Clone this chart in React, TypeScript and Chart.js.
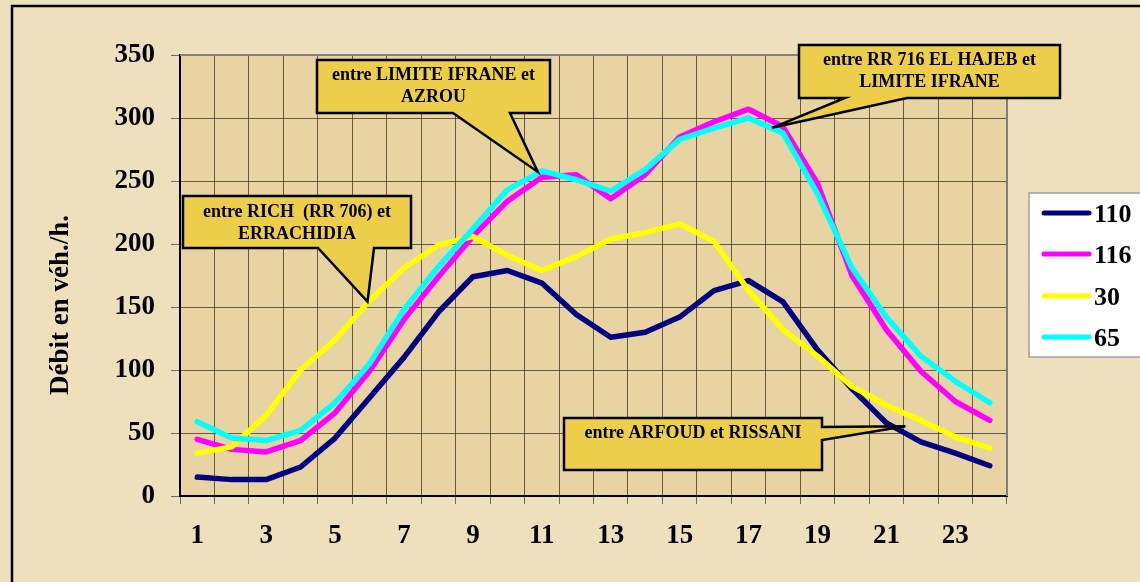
import React, { useEffect, useRef } from "react";
import { Chart, registerables } from "chart.js";

Chart.register(...registerables);

// ---------- DATA ----------
const hours = ["1","2","3","4","5","6","7","8","9","10","11","12","13","14","15","16","17","18","19","20","21","22","23","24"];
const series110 = [15, 13, 13, 23, 46, 78, 110, 146, 174, 179, 169, 144, 126, 130, 142, 163, 171, 154, 116, 85, 58, 43, 34, 24];
const series116 = [45, 37, 35, 44, 66, 99, 140, 174, 206, 234, 253, 255, 236, 255, 285, 297, 307, 293, 248, 175, 132, 99, 75, 60];
const series30 = [34, 39, 64, 100, 124, 155, 181, 199, 206, 191, 179, 190, 204, 209, 216, 202, 163, 132, 111, 87, 72, 60, 47, 38];
const series65 = [59, 46, 44, 52, 74, 105, 148, 182, 212, 243, 258, 251, 242, 259, 283, 292, 300, 288, 240, 181, 142, 111, 91, 74];
const seriesNames = ["110", "116", "30", "65"];
const seriesColors = ["#000080", "#FF00FF", "#FFFF00", "#00FFFF"];
const yMin = 0;
const yMax = 350;
const yStep = 50;
const yTitle = "Débit en véh./h.";

const callout1Lines = ["entre LIMITE IFRANE et", "AZROU"];
const callout2Lines = ["entre RICH  (RR 706) et", "ERRACHIDIA"];
const callout3Lines = ["entre RR 716 EL HAJEB et", "LIMITE IFRANE"];
const callout4Lines = ["entre ARFOUD et RISSANI"];

// ---------- LAYOUT / STYLE ----------
const W = 1140;
const H = 582;
const SERIF = "'Liberation Serif', 'Times New Roman', serif";
const OUTER_BG = "#EEDFBD";
const PLOT_BG = "#E8D3A2";
const CALLOUT_FILL = "#EDCE4A";

type Callout = {
  lines: string[];
  box: [number, number, number, number]; // x0,y0,x1,y1
  side: "bottom" | "right";
  base: [number, number];
  ds: number;
  idx: number;
  frac: number;
  dx: number;
  dy: number;
  baselines: number[];
};

const callouts: Callout[] = [
  { lines: callout1Lines, box: [317, 60, 550, 113], side: "bottom", base: [453, 510], ds: 3, idx: 10, frac: 0, dx: -4, dy: 1, baselines: [80, 102] },
  { lines: callout2Lines, box: [183, 196, 411, 248], side: "bottom", base: [318, 374], ds: 2, idx: 5, frac: 0, dx: -2, dy: 1, baselines: [217, 239] },
  { lines: callout3Lines, box: [799, 45, 1060, 98], side: "bottom", base: [845, 907], ds: 1, idx: 17, frac: 0, dx: -11, dy: 1, baselines: [65, 87] },
  { lines: callout4Lines, box: [564, 418, 822, 470], side: "right", base: [427, 440], ds: 0, idx: 20, frac: 0.55, dx: 0, dy: -7, baselines: [438] },
];

const decorPlugin = {
  id: "decor",
  beforeDraw(chart: any) {
    const { ctx, chartArea } = chart;
    ctx.save();
    ctx.fillStyle = OUTER_BG;
    ctx.fillRect(0, 0, W, H);
    ctx.fillStyle = PLOT_BG;
    ctx.fillRect(chartArea.left, chartArea.top, chartArea.right - chartArea.left, chartArea.bottom - chartArea.top);
    // outer frame
    ctx.strokeStyle = "#000";
    ctx.lineWidth = 2.5;
    ctx.beginPath();
    ctx.moveTo(12, H + 5);
    ctx.lineTo(12, 6);
    ctx.lineTo(W + 5, 6);
    ctx.stroke();
    ctx.restore();
  },
  afterDraw(chart: any) {
    const { ctx, chartArea } = chart;
    ctx.save();
    // top / right plot border (gray)
    ctx.strokeStyle = "#808080";
    ctx.lineWidth = 2;
    ctx.beginPath();
    ctx.moveTo(chartArea.left, chartArea.top);
    ctx.lineTo(chartArea.right, chartArea.top);
    ctx.lineTo(chartArea.right, chartArea.bottom);
    ctx.stroke();

    // y title
    ctx.save();
    ctx.translate(61, 305);
    ctx.rotate(-Math.PI / 2);
    ctx.fillStyle = "#000";
    ctx.font = `bold 27px ${SERIF}`;
    ctx.textAlign = "center";
    ctx.textBaseline = "middle";
    ctx.fillText(yTitle, 0, 0);
    ctx.restore();

    // callouts
    callouts.forEach((c) => {
      const pts = chart.getDatasetMeta(c.ds).data;
      const p0 = pts[c.idx];
      const p1 = pts[Math.min(c.idx + 1, pts.length - 1)];
      const tx = p0.x + (p1.x - p0.x) * c.frac + c.dx;
      const ty = p0.y + (p1.y - p0.y) * c.frac + c.dy;
      const [x0, y0, x1, y1] = c.box;
      ctx.beginPath();
      ctx.moveTo(x0, y0);
      ctx.lineTo(x1, y0);
      if (c.side === "right") {
        ctx.lineTo(x1, c.base[0]);
        ctx.lineTo(tx, ty);
        ctx.lineTo(x1, c.base[1]);
        ctx.lineTo(x1, y1);
        ctx.lineTo(x0, y1);
      } else {
        ctx.lineTo(x1, y1);
        ctx.lineTo(c.base[1], y1);
        ctx.lineTo(tx, ty);
        ctx.lineTo(c.base[0], y1);
        ctx.lineTo(x0, y1);
      }
      ctx.closePath();
      ctx.fillStyle = CALLOUT_FILL;
      ctx.fill();
      ctx.strokeStyle = "#000";
      ctx.lineWidth = 2.5;
      ctx.lineJoin = "miter";
      ctx.stroke();
      ctx.fillStyle = "#000";
      ctx.font = `bold 18px ${SERIF}`;
      ctx.textAlign = "center";
      ctx.textBaseline = "alphabetic";
      const cx = (x0 + x1) / 2;
      c.lines.forEach((ln, i) => ctx.fillText(ln, cx, c.baselines[i]));
    });

    // legend
    ctx.fillStyle = "#FFFFFF";
    ctx.fillRect(1029, 193, 120, 164);
    ctx.strokeStyle = "#A0A0A0";
    ctx.lineWidth = 1.5;
    ctx.strokeRect(1029, 193, 120, 164);
    const itemY = [213, 254, 296, 337];
    seriesNames.forEach((name, i) => {
      ctx.strokeStyle = seriesColors[i];
      ctx.lineWidth = 5;
      ctx.lineCap = "round";
      ctx.beginPath();
      ctx.moveTo(1044, itemY[i]);
      ctx.lineTo(1089, itemY[i]);
      ctx.stroke();
      ctx.fillStyle = "#000";
      ctx.font = `bold 26px ${SERIF}`;
      ctx.textAlign = "left";
      ctx.textBaseline = "middle";
      ctx.fillText(name, 1094, itemY[i] + 2);
    });
    ctx.restore();
  },
};

export default function App() {
  const ref = useRef<HTMLCanvasElement | null>(null);

  useEffect(() => {
    if (!ref.current) return;
    const values = [series110, series116, series30, series65];
    const chart = new Chart(ref.current, {
      type: "line",
      data: {
        labels: hours,
        datasets: values.map((v, i) => ({
          label: seriesNames[i],
          data: v,
          borderColor: seriesColors[i],
          backgroundColor: seriesColors[i],
          borderWidth: 5.5,
          pointRadius: 0,
          pointHoverRadius: 0,
          tension: 0,
          fill: false,
          borderCapStyle: "round" as const,
          borderJoinStyle: "round" as const,
          order: 4 - i,
        })),
      },
      options: {
        responsive: false,
        animation: false,
        devicePixelRatio: 1,
        layout: { padding: { left: 0, top: 55, right: 133, bottom: 0 } },
        plugins: {
          legend: { display: false },
          tooltip: { enabled: false },
          title: { display: false },
        },
        scales: {
          x: {
            type: "category",
            offset: true,
            afterFit: (s: any) => { s.height = 86; },
            grid: {
              offset: true,
              color: "rgba(60,50,35,0.75)",
              lineWidth: 1,
              drawTicks: true,
              tickLength: 8,
              tickColor: "#6a6a6a",
            },
            border: { display: true, color: "#000", width: 2 },
            ticks: {
              autoSkip: false,
              maxRotation: 0,
              padding: 16,
              color: "#000",
              font: { family: SERIF, size: 27, weight: "bold" },
              callback: (_v: any, i: number) => (i % 2 === 0 ? hours[i] : ""),
            },
          },
          y: {
            min: yMin,
            max: yMax,
            afterFit: (s: any) => { s.width = 180; },
            grid: {
              color: "rgba(60,50,35,0.75)",
              lineWidth: 1,
              drawTicks: true,
              tickLength: 9,
              tickColor: "#6a6a6a",
            },
            border: { display: true, color: "#000", width: 2 },
            ticks: {
              stepSize: yStep,
              padding: 16,
              color: "#000",
              font: { family: SERIF, size: 27, weight: "bold" },
            },
          },
        },
      },
      plugins: [decorPlugin],
    } as any);
    return () => chart.destroy();
  }, []);

  return (
    <div style={{ position: "fixed", left: 0, top: 0, width: W, height: H, overflow: "hidden" }}>
      <canvas ref={ref} width={W} height={H} style={{ display: "block", width: W, height: H }} />
    </div>
  );
}
